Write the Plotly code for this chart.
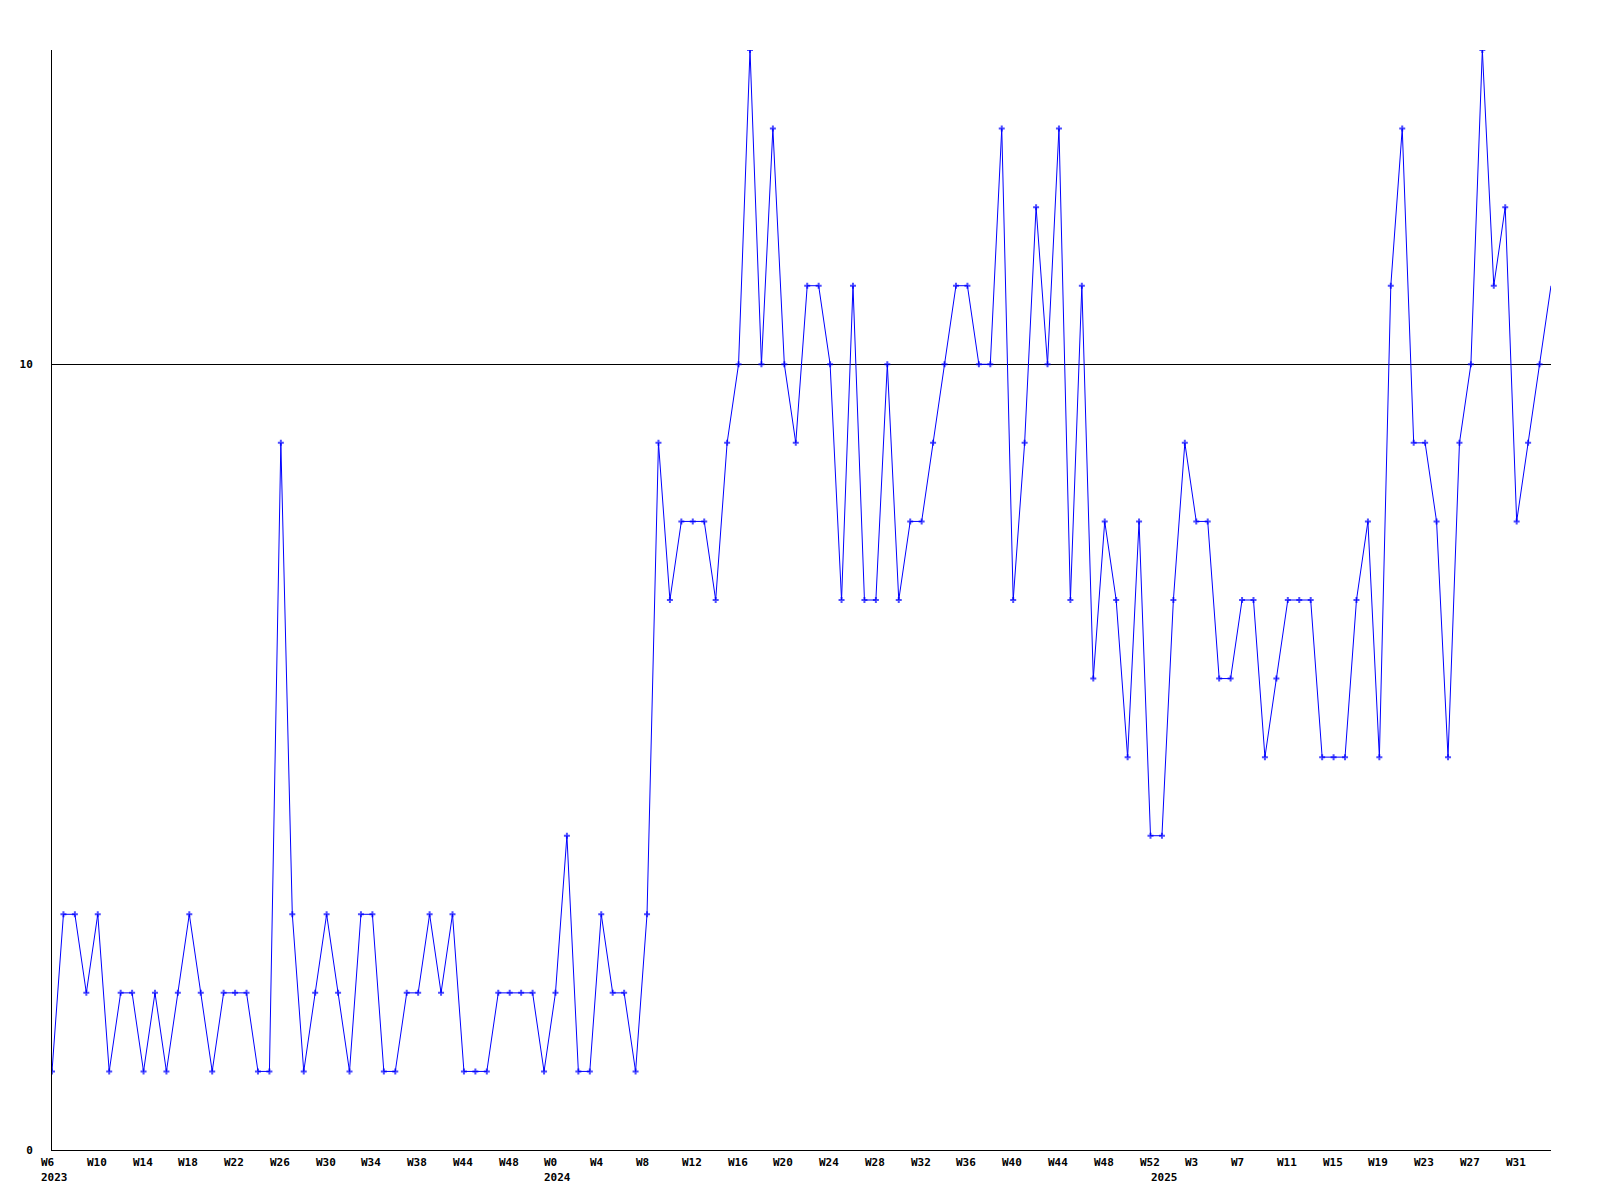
import plotly.graph_objects as go

# weekly values, first point = 2023 W6 (last value lies on the right edge)
values = [
    1, 3, 3, 2, 3, 1, 2, 2, 1, 2,
    1, 2, 3, 2, 1, 2, 2, 2, 1, 1,
    9, 3, 1, 2, 3, 2, 1, 3, 3, 1,
    1, 2, 2, 3, 2, 3, 1, 1, 1, 2,
    2, 2, 2, 1, 2, 4, 1, 1, 3, 2,
    2, 1, 3, 9, 7, 8, 8, 8, 7, 9,
    10, 14, 10, 13, 10, 9, 11, 11, 10, 7,
    11, 7, 7, 10, 7, 8, 8, 9, 10, 11,
    11, 10, 10, 13, 7, 9, 12, 10, 13, 7,
    11, 6, 8, 7, 5, 8, 4, 4, 7, 9,
    8, 8, 6, 6, 7, 7, 5, 6, 7, 7,
    7, 5, 5, 5, 7, 8, 5, 11, 13, 9,
    9, 8, 5, 9, 10, 14, 11, 12, 8, 9,
    10, 11,
]

week_labels = ["W6", "W10", "W14", "W18", "W22", "W26", "W30", "W34", "W38", "W44",
               "W48", "W0", "W4", "W8", "W12", "W16", "W20", "W24", "W28", "W32",
               "W36", "W40", "W44", "W48", "W52", "W3", "W7", "W11", "W15", "W19",
               "W23", "W27", "W31"]
label_step = 4
year_labels = ["2023", "2024", "2025"]
year_index = [0, 44, 97]

y_ticks = [0, 10]

x = list(range(len(values)))
n_last = len(values) - 1
marker_sizes = [5] * n_last + [0]

FONT = "DejaVu Sans Mono"

fig = go.Figure()
fig.add_trace(go.Scatter(
    x=x, y=values, mode="lines+markers",
    line=dict(color="#0000ff", width=1),
    marker=dict(symbol="cross", size=marker_sizes, color="#0000ff", line=dict(width=0)),
    hoverinfo="x+y", showlegend=False,
))

annotations = []
for i, lab in enumerate(week_labels):
    annotations.append(dict(
        x=i * label_step, y=0, xref="x", yref="paper", text=f"<b>{lab}</b>",
        showarrow=False, xanchor="left", yanchor="middle", xshift=-13, yshift=-12,
        font=dict(family=FONT, size=11, color="black"),
    ))
for lab, xi in zip(year_labels, year_index):
    annotations.append(dict(
        x=xi, y=0, xref="x", yref="paper", text=f"<b>{lab}</b>",
        showarrow=False, xanchor="left", yanchor="middle", xshift=-13, yshift=-27,
        font=dict(family=FONT, size=11, color="black"),
    ))

fig.update_layout(
    width=1584, height=1184,
    margin=dict(l=42, r=41, t=42, b=42),
    paper_bgcolor="white", plot_bgcolor="white",
    font=dict(family=FONT, size=11, color="black"),
    annotations=annotations,
    xaxis=dict(range=[0, n_last], showticklabels=False, showgrid=False, zeroline=False,
               showline=True, linecolor="black", linewidth=1, ticks=""),
    yaxis=dict(range=[0, 14], tickvals=y_ticks, ticktext=[f"<b>{v}</b>" for v in y_ticks],
               showgrid=True, gridcolor="black", gridwidth=1, zeroline=False,
               showline=True, linecolor="black", linewidth=1, ticks="",
               ticklabelstandoff=16, tickfont=dict(family=FONT, size=11)),
)

fig.write_html("out.html")
